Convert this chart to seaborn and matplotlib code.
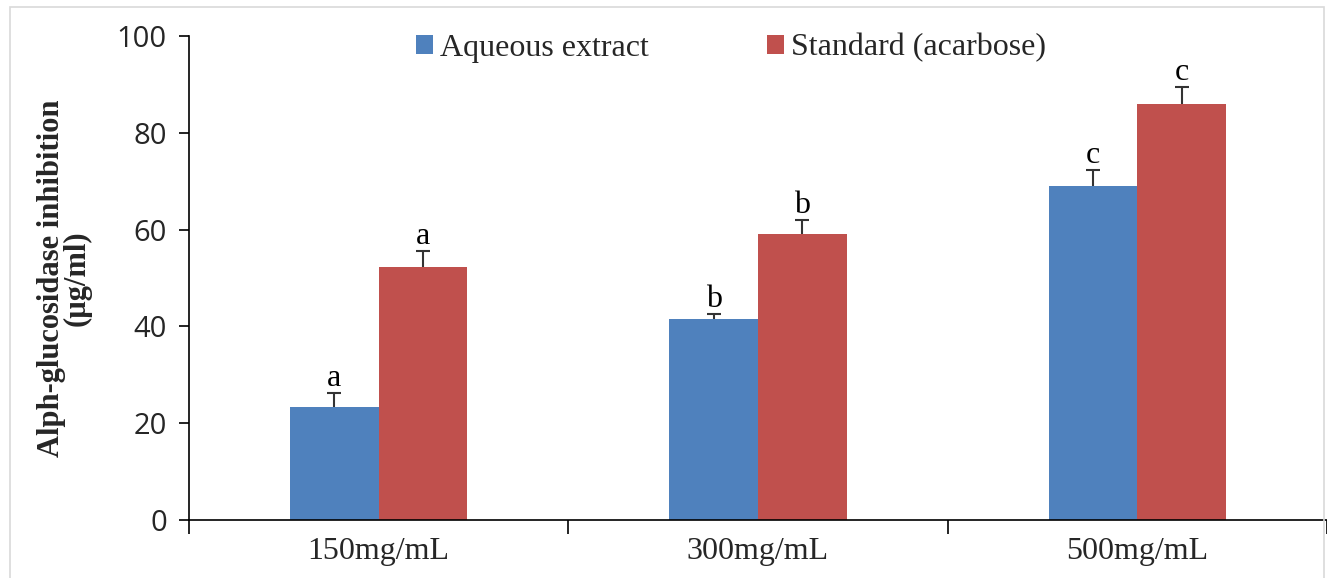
import numpy as np
import pandas as pd
import seaborn as sns
from matplotlib import pyplot as plt
from matplotlib.patches import Rectangle

concentrations = ["150mg/mL", "300mg/mL", "500mg/mL"]
series_names = ["Aqueous extract", "Standard (acarbose)"]
aqueous_values = [23.4, 41.6, 69.0]
aqueous_errors = [2.9, 1.0, 3.4]
standard_values = [52.3, 59.1, 86.0]
standard_errors = [3.3, 2.8, 3.4]
aqueous_letters = ["a", "b", "c"]
standard_letters = ["a", "b", "c"]

df = pd.DataFrame({
    "conc": concentrations * 2,
    "series": [series_names[0]] * 3 + [series_names[1]] * 3,
    "value": aqueous_values + standard_values,
})

sns.set_theme(style="white")
plt.rcParams["font.family"] = ["Liberation Serif", "DejaVu Serif"]

fig = plt.figure(figsize=(13.27, 5.78), dpi=100)
ax = fig.add_axes([189 / 1327, 1 - 520 / 578, 1 - 189 / 1327, (520 - 36) / 578])

palette = {series_names[0]: "#4F81BD", series_names[1]: "#C0504D"}
sns.barplot(data=df, x="conc", y="value", hue="series", order=concentrations,
            hue_order=series_names, palette=palette, width=0.468, gap=0,
            saturation=1, errorbar=None, ax=ax, legend=True, edgecolor="none")

# upper error bars + letters, positioned from the drawn bars
bars = ax.patches[:6]
errs = aqueous_errors + standard_errors
vals = aqueous_values + standard_values
letters = aqueous_letters + standard_letters
for bar, v, e, lab in zip(bars, vals, errs, letters):
    xc = bar.get_x() + bar.get_width() / 2
    eb = ax.errorbar(xc, v, yerr=[[0], [e]], fmt="none", ecolor="#333333",
                     elinewidth=1.5, capsize=5, capthick=1.5)
    eb[1][0].set_visible(False)  # hide the cap sitting on the bar top
    ax.annotate(lab, (xc, v + e), xytext=(0, 0), textcoords="offset points",
                ha="center", va="bottom", fontsize=23, color="black")

ax.set_xlim(-0.5, 2.5)
ax.set_ylim(0, 100)
ax.set_yticks(np.arange(0, 101, 20))
ax.set_yticklabels([str(t) for t in range(0, 101, 20)],
                   family=["Open Sans", "DejaVu Sans"], fontsize=21)
ax.set_xticks([-0.5, 0.5, 1.5, 2.5])
ax.set_xticklabels([])
ax.set_xticks([0, 1, 2], minor=True)
ax.set_xticklabels(concentrations, minor=True, fontsize=23)
ax.tick_params(axis="x", which="major", bottom=True, direction="out", length=10,
               width=1.2, color="black")
ax.tick_params(axis="x", which="minor", bottom=True, length=0, pad=12)
ax.tick_params(axis="y", left=True, direction="out", length=7, width=1.2,
               color="black", pad=9)
ax.set_xlabel("")
ax.set_ylabel("Alph-glucosidase inhibition\n(µg/ml)", fontsize=22, fontweight="bold",
              labelpad=18, linespacing=0.85)

for side in ["top", "right"]:
    ax.spines[side].set_visible(False)
for side in ["left", "bottom"]:
    ax.spines[side].set_color("black")
    ax.spines[side].set_linewidth(1.2)

leg = ax.legend(loc="upper center", bbox_to_anchor=(0.476, 1.065), ncol=2, frameon=False,
                fontsize=23, handlelength=0.55, handleheight=0.55, handletextpad=0.2,
                columnspacing=3.7)

fig.patches.append(Rectangle((10 / 1327, -0.05), 1314 / 1327, 1.05 - 7 / 578,
                             transform=fig.transFigure, fill=False,
                             edgecolor="#d9d9d9", linewidth=1.2))

fig.savefig("out.png", dpi=100)
